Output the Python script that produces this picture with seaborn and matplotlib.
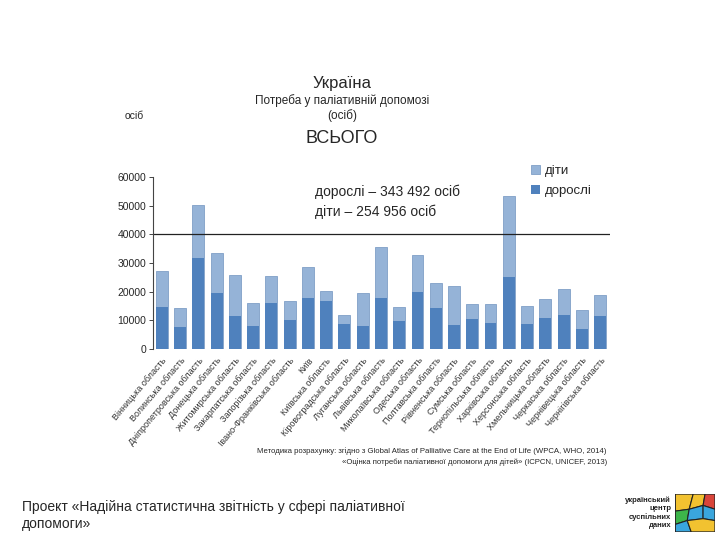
import matplotlib
matplotlib.use("Agg")
import matplotlib.pyplot as plt
import pandas as pd
import seaborn as sns
from matplotlib.patches import Polygon

regions = ["Вінницька область", "Волинська область", "Дніпропетровська область",
           "Донецька область", "Житомирська область", "Закарпатська область",
           "Запорізька область", "Івано-Франківська область", "Київ",
           "Київська область", "Кіровоградська область", "Луганська область",
           "Львівська область", "Миколаївська область", "Одеська область",
           "Полтавська область", "Рівненська область", "Сумська область",
           "Тернопільська область", "Харківська область", "Херсонська область",
           "Хмельницька область", "Черкаська область", "Чернівецька область",
           "Чернігівська область"]
adults = [14750, 7800, 31850, 19400, 11600, 8100, 15900, 10100, 17800, 16850,
          8800, 7900, 17900, 9900, 19900, 14400, 8400, 10600, 9100, 25100,
          8700, 10700, 11850, 6900, 11500]
totals = [27200, 14300, 50300, 33500, 25800, 16000, 25500, 16700, 28600, 20200,
          11900, 19500, 35500, 14650, 32700, 23000, 21850, 15700, 15700, 53500,
          15000, 17400, 20900, 13600, 18800]
yticks = [0, 10000, 20000, 30000, 40000, 50000, 60000]

df = pd.DataFrame({"region": regions, "adults": adults, "total": totals})

sns.set_style("white")
plt.rcParams["font.family"] = ["Liberation Sans", "DejaVu Sans"]

fig = plt.figure(figsize=(7.2, 5.4), dpi=100)
ax = fig.add_axes([0.2125, 0.3537, 0.635, 0.3185])

light = "#95B3D7"
dark = "#4F81BD"
sns.barplot(data=df, x="region", y="total", color=light, width=0.65,
            saturation=1, ax=ax, label="діти", edgecolor="#7f9fc7", linewidth=0.6)
sns.barplot(data=df, x="region", y="adults", color=dark, width=0.65,
            saturation=1, ax=ax, label="дорослі", linewidth=0)

ax.axhline(40000, color="#222222", linewidth=0.9)
ax.set_ylim(0, 60000)
ax.set_xlim(-0.48, 24.55)
ax.set_yticks(yticks)
ax.set_yticklabels([str(v) for v in yticks], fontsize=7.5)
ax.set_xlabel("")
ax.set_ylabel("")
ax.set_xticks(range(len(regions)))
ax.set_xticklabels(regions, rotation=50, ha="right", rotation_mode="anchor",
                   fontsize=6.5, color="#333333")
ax.tick_params(axis="x", length=0, pad=5)
ax.tick_params(axis="y", length=3, width=0.6, left=True, pad=2)
for s in ["top", "right", "bottom"]:
    ax.spines[s].set_visible(False)
ax.spines["left"].set_color("#444444")
ax.spines["left"].set_linewidth(0.8)

ax.legend(loc="upper left", bbox_to_anchor=(0.8, 1.14), frameon=False,
          fontsize=9.5, handlelength=0.7, handleheight=0.7,
          handletextpad=0.4, labelspacing=0.6)

ax.text(0.355, 0.955, "дорослі – 343 492 осіб\nдіти – 254 956 осіб",
        transform=ax.transAxes, fontsize=10, va="top", linespacing=1.45)

fig.text(0.475, 0.837, "Україна", ha="center", fontsize=12)
fig.text(0.475, 0.807, "Потреба у паліативній допомозі", ha="center", fontsize=8.5)
fig.text(0.475, 0.779, "(осіб)", ha="center", fontsize=8.5)
fig.text(0.475, 0.736, "ВСЬОГО", ha="center", fontsize=13)
fig.text(0.186, 0.779, "осіб", ha="center", fontsize=7.5)

fig.text(0.843, 0.162, "Методика розрахунку: згідно з Global Atlas of Palliative Care at the End of Life (WPCA, WHO, 2014)",
         ha="right", fontsize=5.6)
fig.text(0.843, 0.140, "«Оцінка потреби паліативної допомоги для дітей» (ICPCN, UNICEF, 2013)",
         ha="right", fontsize=5.6)

fig.text(0.03, 0.016, "Проект «Надійна статистична звітність у сфері паліативної\nдопомоги»",
         fontsize=10, va="bottom", linespacing=1.3)

fig.text(0.932, 0.081, "український\nцентр\nсуспільних\nданих", ha="right", va="top",
         fontsize=5.5, fontweight="bold", linespacing=1.2, color="#222222")
lax = fig.add_axes([0.938, 0.015, 0.055, 0.07])
lax.set_xlim(0, 1)
lax.set_ylim(0, 1)
lax.axis("off")
pieces = [
    ([(0, 0.55), (0.35, 0.6), (0.45, 1), (0, 1)], "#F2C230"),
    ([(0.35, 0.6), (0.7, 0.7), (0.75, 1), (0.45, 1)], "#F2C230"),
    ([(0.7, 0.7), (1, 0.6), (1, 1), (0.75, 1)], "#D9453A"),
    ([(0, 0.2), (0.3, 0.3), (0.35, 0.6), (0, 0.55)], "#3DB54A"),
    ([(0.3, 0.3), (0.7, 0.35), (0.7, 0.7), (0.35, 0.6)], "#3AA6DD"),
    ([(0.7, 0.35), (1, 0.3), (1, 0.6), (0.7, 0.7)], "#3AA6DD"),
    ([(0, 0), (0.4, 0), (0.3, 0.3), (0, 0.2)], "#3AA6DD"),
    ([(0.4, 0), (1, 0), (1, 0.3), (0.7, 0.35), (0.3, 0.3)], "#F2C230"),
]
for pts, c in pieces:
    lax.add_patch(Polygon(pts, closed=True, facecolor=c, edgecolor="#222222", linewidth=0.8))

fig.savefig("out.png", dpi=100)
